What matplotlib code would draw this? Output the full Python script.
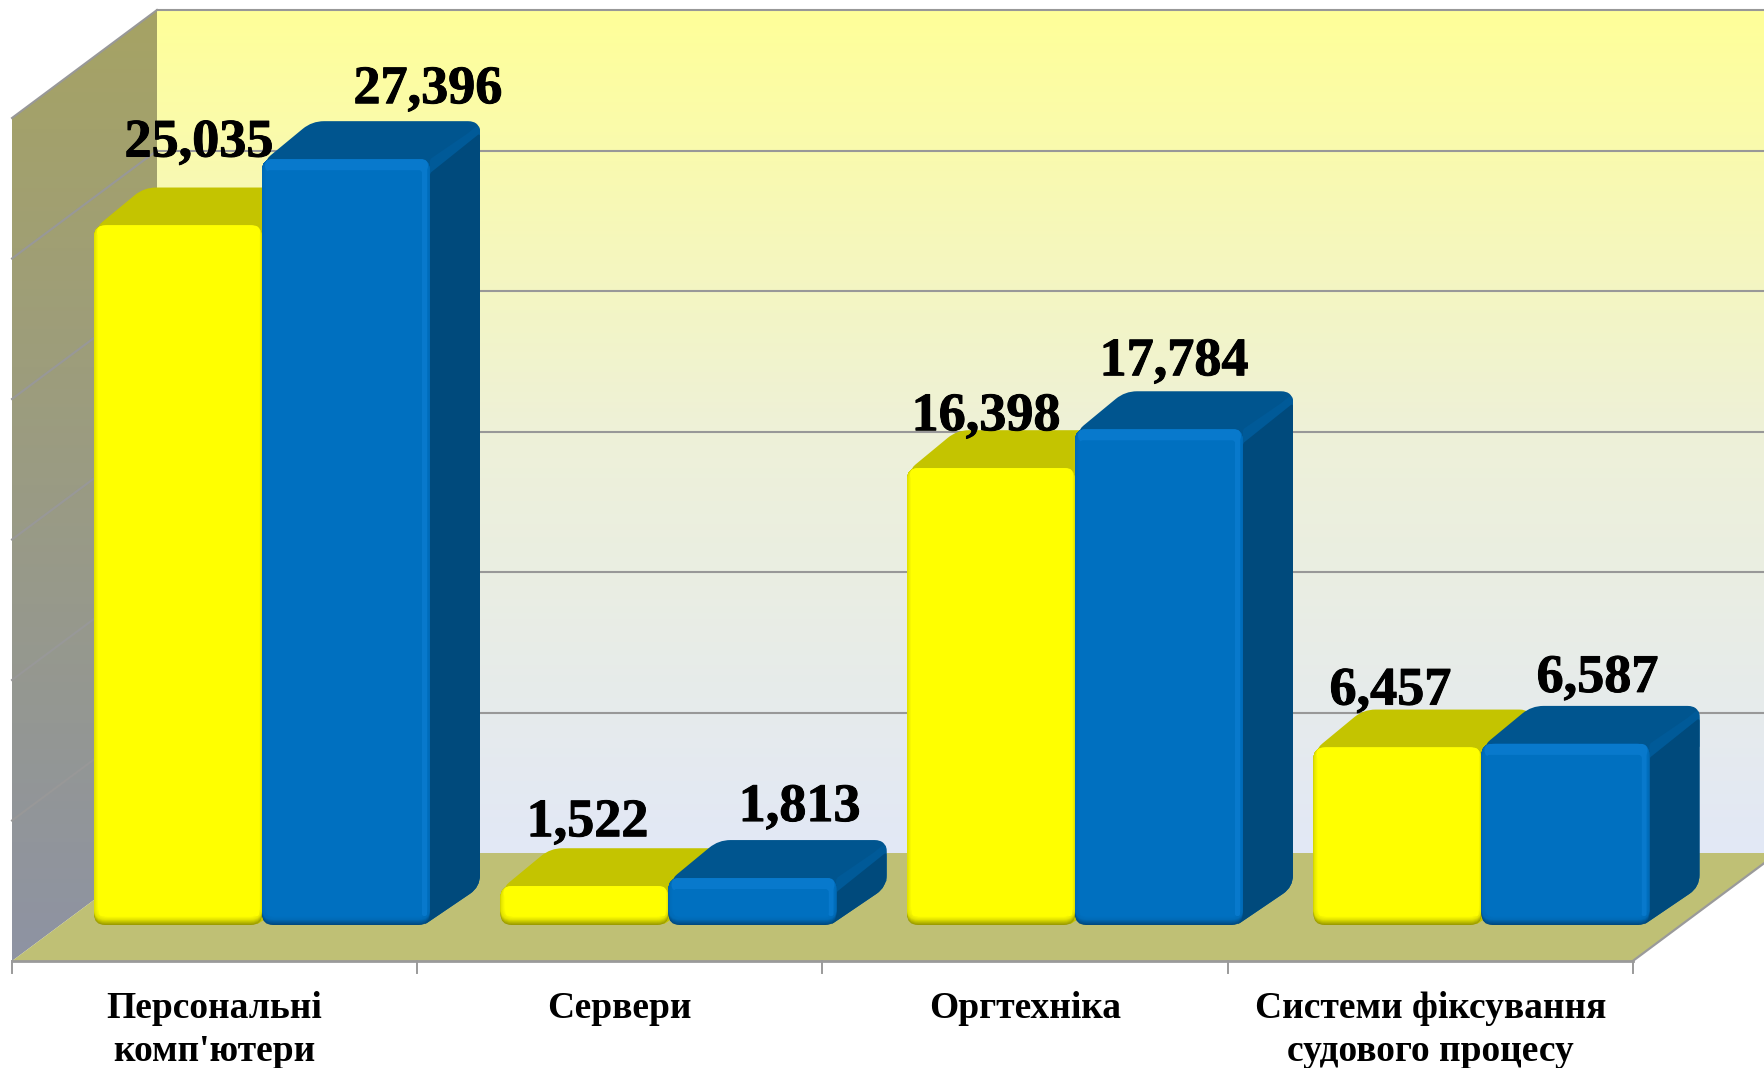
import numpy as np
import matplotlib
matplotlib.use('Agg')
import matplotlib.pyplot as plt
import matplotlib.patheffects as pe
from matplotlib.path import Path
from matplotlib.patches import PathPatch, Polygon
from matplotlib.colors import LinearSegmentedColormap, to_rgb

categories = ["Персональні\nкомп'ютери", "Сервери", "Оргтехніка", "Системи фіксування\nсудового процесу"]
series_yellow = [25035, 1522, 16398, 6457]
series_blue = [27396, 1813, 17784, 6587]
value_ticks = [0, 5000, 10000, 15000, 20000, 25000, 30000]

# hand placed labels in the original, offset in pixels from the front top centre of each bar
label_shift_yellow = [(21, 69), (3, 50), (-5, 38), (-7, 43)]
label_shift_blue = [(82, 56), (47, 57), (15, 54), (32, 52)]

W, H = 1765, 1068
SX = 405.2     # pixels per category
SY = 0.0281    # pixels per unit of value
X0, Y0 = 12, 961
WALL_DX, WALL_DY = 145 / SX, 108 / SY
BAR_W = 168 / SX
BAR_START = 82 / SX
BAR_STEP = 406.5 / SX
BAR_DX, BAR_DY = 50 / SX, 38 / SY
BAR_ZERO = 32 / SY

plt.rcParams['font.family'] = ['Liberation Serif', 'DejaVu Serif']

fig = plt.figure(figsize=(W / 100, H / 100), dpi=100)
ax = fig.add_axes([0, 0, 1, 1])
ax.axis('off')


def px(n):
    return n / SX


def py(n):
    return n / SY


def mix(c1, c2, t):
    return tuple((1 - t) * np.array(to_rgb(c1)) + t * np.array(to_rgb(c2)))


def rounded(pts, r):
    # polygon with rounded corners, r in pixels, per corner
    pts = np.array(pts, dtype=float) * [SX, SY]
    n = len(pts)
    rs = [r] * n if np.isscalar(r) else r
    verts, codes = [], []
    for i in range(n):
        p = pts[i]
        a = pts[i - 1] - p
        b = pts[(i + 1) % n] - p
        la, lb = np.hypot(*a), np.hypot(*b)
        ri = min(rs[i], la / 2, lb / 2)
        start = p + a / la * ri
        end = p + b / lb * ri
        verts += [start, p, end]
        codes += [Path.MOVETO if i == 0 else Path.LINETO, Path.CURVE3, Path.CURVE3]
    verts.append(verts[0])
    codes.append(Path.CLOSEPOLY)
    return Path(np.array(verts) / [SX, SY], codes)


def add_shape(pts, r, color, z):
    ax.add_patch(PathPatch(rounded(pts, r), facecolor=color, edgecolor='none', zorder=z))


def box(x0, y0, x1, y1):
    return [(x0, y0), (x1, y0), (x1, y1), (x0, y1)]


def draw_bar(x, value, cols, z):
    top_c, side_c, side_hi, dark, edge, main, hi = cols
    y0 = BAR_ZERO + py(4)
    y1 = BAR_ZERO + value
    x1 = x + BAR_W
    # back silhouette first, so no gap shows at the far corner
    add_shape([(x, y1 - py(14)), (x + px(4), y1), (x + BAR_DX, y1 + BAR_DY), (x1 + BAR_DX, y1 + BAR_DY),
               (x1 + BAR_DX, y1 - py(4)), (x1, y1 - py(14))], [4, 6, 12, 12, 2, 2], top_c, z)
    add_shape([(x1 - px(6), y0), (x1 + BAR_DX, y0 + BAR_DY), (x1 + BAR_DX, y1 + BAR_DY - py(2)),
               (x1 + px(38), y1 + py(26)), (x1, y1)], [4, 12, 12, 2, 2], side_hi, z)
    add_shape([(x1 - px(6), y0), (x1 + BAR_DX, y0 + BAR_DY), (x1 + BAR_DX, y1 + BAR_DY - py(12)),
               (x1, y1 - py(14))], [4, 12, 3, 2], side_c, z)
    # front face, stacked layers fake the soft bevel
    add_shape(box(x, y0, x1, y1), 11, dark, z)
    for k in range(1, 6):
        c = mix(dark, edge, k / 5)
        add_shape(box(x, y0 + py(k), x1, y1), 11, c, z)
    for k in range(1, 5):
        c = mix(edge, main, k / 4)
        add_shape(box(x + px(k), y0 + py(5 + k * 0.8), x1 - px(k * 0.6), y1), 10, c, z)
    add_shape(box(x + px(3), y1 - py(13), x1 - px(2), y1), 9, hi, z)
    add_shape(box(x1 - px(8), y0 + py(9), x1 - px(3), y1 - py(6)), 2, hi, z)
    add_shape(box(x + px(5), y0 + py(9), x1 - px(8), y1 - py(11)), 3, main, z)


yellow_cols = ('#C4C400', '#C4C400', '#C9C900', '#9C9C00', '#E2E200', '#FFFF00', '#FFFF00')
blue_cols = ('#00558F', '#004A7C', '#005A98', '#004A80', '#006AB6', '#0070C0', '#0879CC')

xl = (-X0 / SX, (W - X0) / SX)
yl = (-(H - Y0) / SY, Y0 / SY)

# walls
wall_x = WALL_DX
wall_top = WALL_DY + value_ticks[-1]
back_map = LinearSegmentedColormap.from_list('back', ['#E2E8F6', '#EEF1D8', '#FFFF99'])
left_map = LinearSegmentedColormap.from_list('left', ['#8E93A3', '#A6A364'])
grad = np.linspace(1, 0, 256).reshape(-1, 1)
ax.imshow(grad, cmap=back_map, aspect='auto', zorder=1,
          extent=(wall_x, xl[1], WALL_DY, wall_top))
im = ax.imshow(grad, cmap=left_map, aspect='auto', zorder=1,
               extent=(0, wall_x, 0, wall_top))
left_wall = Polygon([(0, 0), (wall_x, WALL_DY), (wall_x, wall_top), (0, value_ticks[-1])],
                    closed=True, transform=ax.transData, facecolor='none', edgecolor='none')
ax.add_patch(left_wall)
im.set_clip_path(left_wall)

# floor
ax.add_patch(Polygon([(0, 0), (len(categories), 0),
                      (len(categories) + WALL_DX, WALL_DY), (xl[1] + 1, WALL_DY), (wall_x, WALL_DY)],
                     closed=True, facecolor='#BFC075', edgecolor='none', zorder=2))
# the floor runs off the right side of the picture
ax.plot([len(categories), len(categories) + WALL_DX], [0, WALL_DY], color='#9A9A9A', lw=1.6, zorder=3)
ax.plot([0, len(categories)], [0, 0], color='#9A9A9A', lw=2, zorder=3)

for v in value_ticks[1:]:
    ax.plot([wall_x, xl[1]], [v + WALL_DY, v + WALL_DY], color='#989898', lw=1.5, zorder=3)
    ax.plot([0, wall_x], [v, v + WALL_DY], color='#989898', lw=1.5, zorder=3)

for i in range(len(categories) + 1):
    ax.plot([i, i], [0, -py(12)], color='#9A9A9A', lw=1.4, zorder=3)

# bars
for i in range(len(categories)):
    x = BAR_START + i * BAR_STEP
    draw_bar(x, series_yellow[i], yellow_cols, 5 + i * 2)
    draw_bar(x + BAR_W, series_blue[i], blue_cols, 6 + i * 2)

    for xb, v, shift in [(x, series_yellow[i], label_shift_yellow[i]),
                         (x + BAR_W, series_blue[i], label_shift_blue[i])]:
        ax.annotate(f'{v:,}', xy=(xb + BAR_W / 2, BAR_ZERO + v), xytext=shift,
                    textcoords='offset pixels', ha='center', va='baseline',
                    fontsize=39, fontweight='bold', color='black', zorder=20,
                    path_effects=[pe.withStroke(linewidth=0.7, foreground='black')])

    lines = categories[i].split('\n')
    for j, t in enumerate(lines):
        ax.text(i + 0.5, -py(57 + 43 * j), t, ha='center', va='baseline',
                fontsize=27, fontweight='bold', color='black', zorder=20)

ax.set_xlim(*xl)
ax.set_ylim(*yl)
fig.savefig('out.png', dpi=100, facecolor='white')
